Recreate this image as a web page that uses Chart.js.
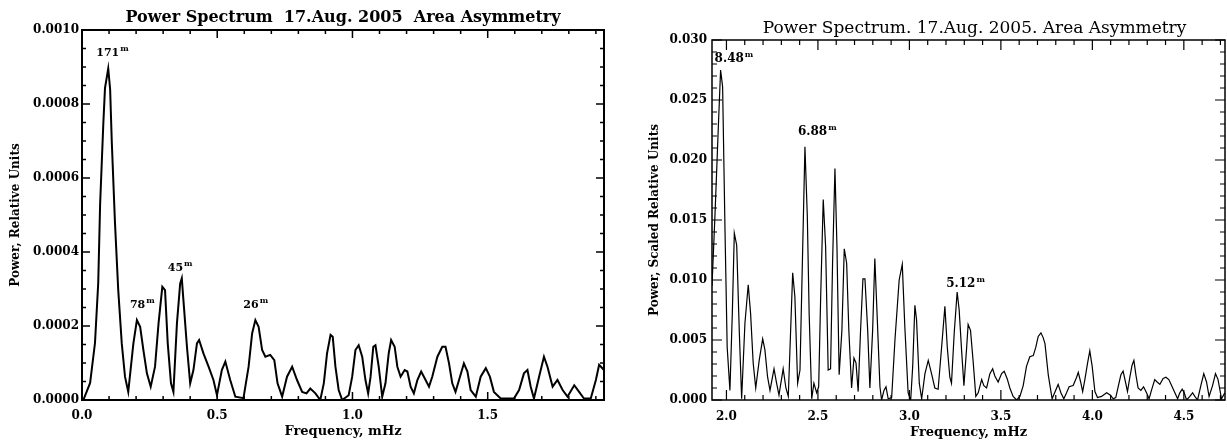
<!DOCTYPE html>
<html>
<head>
<meta charset="utf-8">
<script src="https://cdn.jsdelivr.net/npm/chart.js@4/dist/chart.umd.min.js"></script>
<style>
  body { margin: 0; background: #fff; }
  #wrap { position: relative; width: 1227px; height: 442px; }
  .pane { position: absolute; top: 0; height: 442px; }
</style>
</head>
<body>
<div id="wrap">
  <div class="pane" style="left:0;width:613px"><canvas id="lowChart" width="613" height="442"></canvas></div>
  <div class="pane" style="left:613px;width:614px"><canvas id="highChart" width="614" height="442"></canvas></div>
</div>
<script>
// left panel: 0 - 1.93 mHz
var lowFreq = [0.005, 0.030, 0.048, 0.060, 0.067, 0.079, 0.085, 0.097, 0.104, 0.110,
  0.122, 0.134, 0.147, 0.159, 0.171, 0.190, 0.203, 0.215, 0.227, 0.240,
  0.254, 0.270, 0.283, 0.297, 0.307, 0.317, 0.329, 0.338, 0.351, 0.363,
  0.369, 0.375, 0.388, 0.400, 0.412, 0.425, 0.433, 0.449, 0.468, 0.486,
  0.499, 0.517, 0.530, 0.548, 0.567, 0.597, 0.616, 0.629, 0.641, 0.653,
  0.666, 0.678, 0.696, 0.711, 0.723, 0.740, 0.758, 0.777, 0.795, 0.814,
  0.830, 0.844, 0.863, 0.881, 0.894, 0.906, 0.919, 0.927, 0.937, 0.949,
  0.962, 0.986, 0.999, 1.011, 1.023, 1.036, 1.048, 1.058, 1.067, 1.077,
  1.085, 1.097, 1.110, 1.122, 1.134, 1.143, 1.156, 1.166, 1.178, 1.193,
  1.203, 1.215, 1.227, 1.240, 1.254, 1.267, 1.283, 1.295, 1.314, 1.332,
  1.344, 1.357, 1.369, 1.381, 1.394, 1.412, 1.425, 1.437, 1.456, 1.474,
  1.493, 1.508, 1.523, 1.548, 1.597, 1.616, 1.634, 1.647, 1.659, 1.671,
  1.690, 1.708, 1.721, 1.740, 1.758, 1.777, 1.795, 1.820, 1.838, 1.856,
  1.881, 1.900, 1.912, 1.930];
var lowPower = [0.000000, 0.000046, 0.000154, 0.000316, 0.000530, 0.000750, 0.000843, 0.000896, 0.000840, 0.000700,
  0.000478, 0.000297, 0.000153, 0.000063, 0.000022, 0.000153, 0.000216, 0.000198, 0.000135, 0.000072,
  0.000036, 0.000090, 0.000207, 0.000306, 0.000297, 0.000153, 0.000045, 0.000022, 0.000207, 0.000315,
  0.000329, 0.000270, 0.000144, 0.000045, 0.000081, 0.000153, 0.000162, 0.000126, 0.000090, 0.000054,
  0.000013, 0.000081, 0.000104, 0.000054, 0.000009, 0.000005, 0.000090, 0.000180, 0.000216, 0.000198,
  0.000135, 0.000117, 0.000122, 0.000108, 0.000045, 0.000009, 0.000063, 0.000090, 0.000054, 0.000022,
  0.000018, 0.000031, 0.000018, 0.000000, 0.000045, 0.000126, 0.000176, 0.000171, 0.000090, 0.000027,
  0.000000, 0.000013, 0.000063, 0.000135, 0.000148, 0.000117, 0.000054, 0.000018, 0.000063, 0.000144,
  0.000148, 0.000090, 0.000009, 0.000045, 0.000126, 0.000162, 0.000144, 0.000090, 0.000063, 0.000081,
  0.000077, 0.000036, 0.000018, 0.000054, 0.000077, 0.000059, 0.000036, 0.000063, 0.000117, 0.000144,
  0.000144, 0.000099, 0.000045, 0.000022, 0.000054, 0.000099, 0.000077, 0.000027, 0.000009, 0.000063,
  0.000086, 0.000063, 0.000022, 0.000004, 0.000004, 0.000027, 0.000072, 0.000081, 0.000036, 0.000004,
  0.000063, 0.000117, 0.000090, 0.000036, 0.000054, 0.000027, 0.000009, 0.000040, 0.000022, 0.000004,
  0.000004, 0.000054, 0.000095, 0.000081];
var lowXTicks = [0.0, 0.5, 1.0, 1.5];
var lowYTicks = [0.0000, 0.0002, 0.0004, 0.0006, 0.0008, 0.0010];
var lowPeakText = ['171', '78', '45', '26'];
var lowPeakFreq = [0.097, 0.203, 0.369, 0.641];
var lowPeakPower = [0.000896, 0.000216, 0.000329, 0.000216];

// right panel: 1.92 - 4.72 mHz
var highFreq = [1.921, 1.937, 1.955, 1.968, 1.979, 1.992, 2.004, 2.019, 2.032, 2.043,
  2.056, 2.070, 2.083, 2.101, 2.119, 2.132, 2.146, 2.160, 2.179, 2.198,
  2.210, 2.225, 2.238, 2.260, 2.274, 2.287, 2.310, 2.325, 2.338, 2.362,
  2.374, 2.389, 2.402, 2.429, 2.442, 2.452, 2.466, 2.478, 2.493, 2.504,
  2.515, 2.529, 2.542, 2.556, 2.569, 2.580, 2.593, 2.604, 2.616, 2.631,
  2.644, 2.657, 2.669, 2.684, 2.697, 2.708, 2.720, 2.733, 2.746, 2.757,
  2.772, 2.784, 2.799, 2.811, 2.824, 2.839, 2.848, 2.861, 2.872, 2.884,
  2.903, 2.921, 2.944, 2.961, 2.975, 2.993, 3.007, 3.018, 3.030, 3.039,
  3.054, 3.067, 3.085, 3.103, 3.121, 3.139, 3.157, 3.176, 3.194, 3.207,
  3.221, 3.230, 3.245, 3.261, 3.272, 3.285, 3.298, 3.313, 3.321, 3.334,
  3.349, 3.363, 3.376, 3.395, 3.407, 3.422, 3.440, 3.455, 3.467, 3.485,
  3.504, 3.518, 3.534, 3.549, 3.567, 3.586, 3.604, 3.622, 3.640, 3.658,
  3.677, 3.691, 3.704, 3.719, 3.731, 3.741, 3.759, 3.780, 3.799, 3.813,
  3.828, 3.844, 3.859, 3.873, 3.895, 3.914, 3.923, 3.936, 3.947, 3.959,
  3.974, 3.986, 3.999, 4.014, 4.028, 4.050, 4.078, 4.099, 4.114, 4.128,
  4.141, 4.156, 4.168, 4.181, 4.192, 4.205, 4.217, 4.227, 4.238, 4.250,
  4.265, 4.280, 4.296, 4.310, 4.323, 4.341, 4.354, 4.369, 4.387, 4.402,
  4.418, 4.433, 4.451, 4.466, 4.478, 4.491, 4.502, 4.515, 4.533, 4.548,
  4.560, 4.575, 4.593, 4.609, 4.624, 4.638, 4.657, 4.673, 4.687, 4.706,
  4.724];
var highPower = [0.0095, 0.0153, 0.0225, 0.0275, 0.0261, 0.0142, 0.0044, 0.0008, 0.0072, 0.0139,
  0.0129, 0.0058, 0.0001, 0.0064, 0.0096, 0.0072, 0.0031, 0.0010, 0.0033, 0.0051,
  0.0042, 0.0019, 0.0008, 0.0026, 0.0014, 0.0004, 0.0026, 0.0010, 0.0003, 0.0106,
  0.0086, 0.0014, 0.0025, 0.0211, 0.0153, 0.0072, 0.0001, 0.0014, 0.0006, 0.0011,
  0.0086, 0.0167, 0.0128, 0.0025, 0.0026, 0.0114, 0.0193, 0.0128, 0.0021, 0.0058,
  0.0126, 0.0114, 0.0058, 0.0010, 0.0035, 0.0031, 0.0007, 0.0058, 0.0101, 0.0101,
  0.0058, 0.0010, 0.0058, 0.0118, 0.0069, 0.0011, 0.0000, 0.0008, 0.0011, 0.0001,
  0.0002, 0.0050, 0.0100, 0.0113, 0.0061, 0.0006, 0.0000, 0.0028, 0.0079, 0.0067,
  0.0014, 0.0001, 0.0022, 0.0033, 0.0022, 0.0010, 0.0009, 0.0044, 0.0078, 0.0044,
  0.0019, 0.0014, 0.0056, 0.0090, 0.0075, 0.0042, 0.0012, 0.0044, 0.0063, 0.0058,
  0.0031, 0.0003, 0.0006, 0.0017, 0.0012, 0.0010, 0.0022, 0.0026, 0.0020, 0.0015,
  0.0022, 0.0024, 0.0018, 0.0010, 0.0003, 0.0000, 0.0003, 0.0012, 0.0028, 0.0036,
  0.0037, 0.0044, 0.0053, 0.0056, 0.0052, 0.0047, 0.0021, 0.0001, 0.0008, 0.0013,
  0.0006, 0.0001, 0.0006, 0.0011, 0.0012, 0.0019, 0.0023, 0.0015, 0.0007, 0.0017,
  0.0031, 0.0041, 0.0028, 0.0007, 0.0002, 0.0003, 0.0006, 0.0004, 0.0001, 0.0002,
  0.0011, 0.0021, 0.0024, 0.0015, 0.0007, 0.0019, 0.0029, 0.0033, 0.0021, 0.0010,
  0.0008, 0.0011, 0.0006, 0.0001, 0.0008, 0.0017, 0.0015, 0.0013, 0.0018, 0.0019,
  0.0017, 0.0012, 0.0006, 0.0001, 0.0006, 0.0009, 0.0006, 0.0000, 0.0003, 0.0006,
  0.0003, 0.0000, 0.0012, 0.0022, 0.0015, 0.0003, 0.0012, 0.0022, 0.0017, 0.0001,
  0.0006];
var highXTicks = [2.0, 2.5, 3.0, 3.5, 4.0, 4.5];
var highYTicks = [0.000, 0.005, 0.010, 0.015, 0.020, 0.025, 0.030];
var highPeakText = ['8.48', '6.88', '5.12'];
var highPeakFreq = [1.968, 2.429, 3.261];
var highPeakPower = [0.0275, 0.0211, 0.0090];

// frame, inward ticks (IDL style), titles and period labels
var spectrumFrame = {
    id: 'spectrumFrame',
    afterDraw: function(chart, args, o) {
        var ctx = chart.ctx, a = chart.chartArea;
        var xs = chart.scales.x, ys = chart.scales.y;
        var i, p, len;
        ctx.save();
        ctx.strokeStyle = '#000';
        ctx.fillStyle = '#000';

        ctx.lineWidth = o.tickWidth;
        ctx.beginPath();
        for (i = Math.ceil(xs.min / o.xMinor - 1e-6); i * o.xMinor <= xs.max + 1e-9; i++) {
            p = xs.getPixelForValue(i * o.xMinor);
            len = (i % o.xPer === 0) ? o.majorLen : o.minorLen;
            ctx.moveTo(p, a.bottom); ctx.lineTo(p, a.bottom - len);
            ctx.moveTo(p, a.top); ctx.lineTo(p, a.top + len);
        }
        for (i = Math.ceil(ys.min / o.yMinor - 1e-6); i * o.yMinor <= ys.max + 1e-12; i++) {
            p = ys.getPixelForValue(i * o.yMinor);
            len = (i % o.yPer === 0) ? o.majorLen : o.minorLen;
            ctx.moveTo(a.left, p); ctx.lineTo(a.left + len, p);
            ctx.moveTo(a.right, p); ctx.lineTo(a.right - len, p);
        }
        ctx.stroke();

        ctx.lineWidth = o.frameWidth;
        ctx.strokeRect(a.left, a.top, a.right - a.left, a.bottom - a.top);

        ctx.textAlign = 'center';
        ctx.textBaseline = 'middle';
        ctx.font = o.titleFont;
        ctx.fillText(o.title, (a.left + a.right) / 2 + o.titleDx, o.titleY);
        ctx.font = o.xTitleFont;
        ctx.fillText(o.xTitle, (a.left + a.right) / 2, o.xTitleY);
        ctx.font = o.yTitleFont;
        ctx.save();
        ctx.translate(o.yTitleX, (a.top + a.bottom) / 2);
        ctx.rotate(-Math.PI / 2);
        ctx.fillText(o.yTitle, 0, 0);
        ctx.restore();

        ctx.textAlign = 'left';
        ctx.textBaseline = 'alphabetic';
        o.peakText.forEach(function(t, k) {
            var px = xs.getPixelForValue(o.peakFreq[k]) + o.peakDx[k];
            var py = ys.getPixelForValue(o.peakPower[k]) + o.peakDy[k];
            ctx.font = o.peakFont;
            ctx.fillText(t, px, py);
            var w = ctx.measureText(t).width;
            ctx.font = o.supFont;
            ctx.fillText('m', px + w + 1, py - 5);
        });
        ctx.restore();
    }
};

function pairs(xs, ys) {
    return xs.map(function(x, i) { return { x: x, y: ys[i] }; });
}

function fixedTicks(list) {
    return function(scale) {
        scale.ticks = list.map(function(v) { return { value: v }; });
    };
}

document.addEventListener('DOMContentLoaded', function() {

    var lowChart = new Chart(document.getElementById('lowChart').getContext('2d'), {
        type: 'line',
        data: {
            datasets: [{
                data: pairs(lowFreq, lowPower),
                borderColor: '#000',
                borderWidth: 2,
                pointRadius: 0,
                tension: 0
            }]
        },
        plugins: [spectrumFrame],
        options: {
            responsive: false,
            animation: false,
            devicePixelRatio: 1,
            layout: { padding: { top: 30, right: 9, left: 0, bottom: 0 } },
            scales: {
                x: {
                    type: 'linear', min: 0, max: 1.93,
                    grid: { display: false, drawTicks: false }, border: { display: false },
                    afterBuildTicks: fixedTicks(lowXTicks),
                    afterFit: function(s) { s.height = 42; },
                    ticks: {
                        color: '#000', padding: 9, maxRotation: 0,
                        font: { family: 'DejaVu Serif', weight: 'bold', size: 12 },
                        callback: function(v) { return v.toFixed(1); }
                    }
                },
                y: {
                    min: 0, max: 0.0010,
                    grid: { display: false, drawTicks: false }, border: { display: false },
                    afterBuildTicks: fixedTicks(lowYTicks),
                    afterFit: function(s) { s.width = 82; },
                    ticks: {
                        color: '#000', padding: 3,
                        font: { family: 'DejaVu Serif', weight: 'bold', size: 12 },
                        callback: function(v) { return v.toFixed(4); }
                    }
                }
            },
            plugins: {
                legend: { display: false },
                tooltip: { enabled: false },
                spectrumFrame: {
                    frameWidth: 2, tickWidth: 1.5, majorLen: 8, minorLen: 4,
                    xMinor: 0.1, xPer: 5, yMinor: 0.00005, yPer: 4,
                    title: 'Power Spectrum  17.Aug. 2005  Area Asymmetry',
                    titleFont: 'bold 16px "DejaVu Serif"', titleDx: 0, titleY: 18,
                    xTitle: 'Frequency, mHz', xTitleY: 432, xTitleFont: 'bold 13px "DejaVu Serif"',
                    yTitle: 'Power, Relative Units', yTitleX: 16, yTitleFont: 'bold 12px "DejaVu Serif"',
                    peakText: lowPeakText, peakFreq: lowPeakFreq, peakPower: lowPeakPower,
                    peakDx: [-12, -7, -14, -12], peakDy: [-12, -12, -7, -12],
                    peakFont: 'bold 11px "DejaVu Serif"', supFont: 'bold 8px "DejaVu Serif"'
                }
            }
        }
    });

    var highChart = new Chart(document.getElementById('highChart').getContext('2d'), {
        type: 'line',
        data: {
            datasets: [{
                data: pairs(highFreq, highPower),
                borderColor: '#000',
                borderWidth: 1.2,
                pointRadius: 0,
                tension: 0
            }]
        },
        plugins: [spectrumFrame],
        options: {
            responsive: false,
            animation: false,
            devicePixelRatio: 1,
            layout: { padding: { top: 40, right: 2, left: 0, bottom: 0 } },
            scales: {
                x: {
                    type: 'linear', min: 1.921, max: 4.725,
                    grid: { display: false, drawTicks: false }, border: { display: false },
                    afterBuildTicks: fixedTicks(highXTicks),
                    afterFit: function(s) { s.height = 42; },
                    ticks: {
                        color: '#000', padding: 10, maxRotation: 0,
                        font: { family: 'DejaVu Serif', weight: 'bold', size: 12 },
                        callback: function(v) { return v.toFixed(1); }
                    }
                },
                y: {
                    min: 0, max: 0.030,
                    grid: { display: false, drawTicks: false }, border: { display: false },
                    afterBuildTicks: fixedTicks(highYTicks),
                    afterFit: function(s) { s.width = 99; },
                    ticks: {
                        color: '#000', padding: 5,
                        font: { family: 'DejaVu Serif', weight: 'bold', size: 12 },
                        callback: function(v) { return v.toFixed(3); }
                    }
                }
            },
            plugins: {
                legend: { display: false },
                tooltip: { enabled: false },
                spectrumFrame: {
                    frameWidth: 1.5, tickWidth: 1.2, majorLen: 10, minorLen: 5,
                    xMinor: 0.1, xPer: 5, yMinor: 0.001, yPer: 5,
                    title: 'Power Spectrum. 17.Aug. 2005. Area Asymmetry',
                    titleFont: '17px "DejaVu Serif"', titleDx: 6, titleY: 29,
                    xTitle: 'Frequency, mHz', xTitleY: 433, xTitleFont: 'bold 13px "DejaVu Serif"',
                    yTitle: 'Power, Scaled Relative Units', yTitleX: 42, yTitleFont: 'bold 12px "DejaVu Serif"',
                    peakText: highPeakText, peakFreq: highPeakFreq, peakPower: highPeakPower,
                    peakDx: [-6, -7, -11], peakDy: [-8, -12, -5],
                    peakFont: 'bold 12px "DejaVu Serif"', supFont: 'bold 8px "DejaVu Serif"'
                }
            }
        }
    });
});
</script>
</body>
</html>
